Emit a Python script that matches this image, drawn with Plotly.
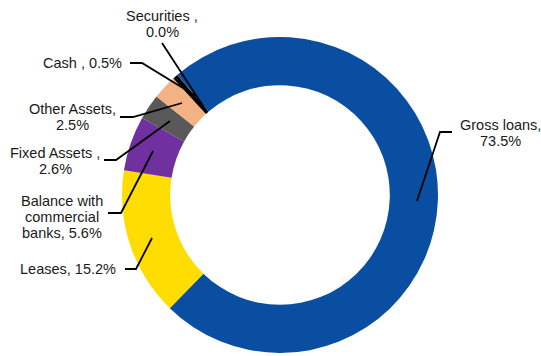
import plotly.graph_objects as go

W, H = 541, 356

# data
names = ["Gross loans", "Leases", "Balance with commercial banks", "Fixed Assets ",
         "Other Assets", "Cash ", "Securities "]
values = [73.5, 15.2, 5.6, 2.6, 2.5, 0.5, 0.04]
shown_pct = ["73.5%", "15.2%", "5.6%", "2.6%", "2.5%", "0.5%", "0.0%"]
colors = ["#0a4ea2", "#ffdd00", "#7030a0", "#595959", "#f4b183", "#000000", "#262626"]

# how each label wraps (text layout only)
wraps = [
    ["Gross loans,", "{p}"],
    ["Leases, {p}"],
    ["Balance with", "commercial", "banks, {p}"],
    ["Fixed Assets ,", "{p}"],
    ["Other Assets,", "{p}"],
    ["Cash , {p}"],
    ["Securities ,", "{p}"],
]

# label text anchor (px), alignment, and leader line path (px)
label_pos = [
    (500, 125, "center", [(452, 132), (440, 132), (417, 201)]),
    (118, 269, "right", [(125, 269), (136, 269), (152, 238)]),
    (62, 201, "center", [(108, 213), (121, 213), (153, 151)]),
    (55, 153, "center", [(104, 160), (116, 160), (170, 121)]),
    (72, 109, "center", [(120, 117), (133, 117), (182, 103)]),
    (124, 63, "right", [(130, 63), (142, 63), (196, 96)]),
    (162, 16, "center", [(162, 43), (207, 112)]),
]

CX, CY, R = 280, 195, 158


def px(x, y):
    return x / W, 1 - y / H


fig = go.Figure()
fig.add_trace(
    go.Pie(
        labels=names,
        values=values,
        sort=False,
        direction="clockwise",
        rotation=-40.5,
        hole=0.695,
        marker=dict(colors=colors, line=dict(width=0)),
        textinfo="none",
        hoverinfo="label+percent",
        showlegend=False,
        domain=dict(x=[(CX - R) / W, (CX + R) / W], y=[1 - (CY + R) / H, 1 - (CY - R) / H]),
    )
)

LINE_H = 16
for wrap, pct, (tx, ty, align, path) in zip(wraps, shown_pct, label_pos):
    for i, line in enumerate(wrap):
        x, y = px(tx, ty + i * LINE_H)
        fig.add_annotation(
            x=x, y=y, xref="paper", yref="paper",
            text=line.format(p=pct), showarrow=False,
            xanchor=align, yanchor="middle",
            font=dict(family="Liberation Sans, Arial, sans-serif", size=14.5, color="#1a1a1a"),
        )
    d = ""
    for j, (lx, ly) in enumerate(path):
        px_, py_ = px(lx, ly)
        d += ("M" if j == 0 else " L") + f" {px_:.5f},{py_:.5f}"
    fig.add_shape(type="path", path=d, xref="paper", yref="paper",
                  line=dict(color="#000000", width=1.8))

fig.update_layout(
    width=W,
    height=H,
    margin=dict(l=0, r=0, t=0, b=0),
    paper_bgcolor="white",
    plot_bgcolor="white",
    xaxis=dict(visible=False, range=[0, 1]),
    yaxis=dict(visible=False, range=[0, 1]),
)

# drop the default page margin so the figure sits at the window's corner
fig.write_html(
    "out.html",
    config={"displayModeBar": False},
    post_script="document.body.style.margin='0';",
)
